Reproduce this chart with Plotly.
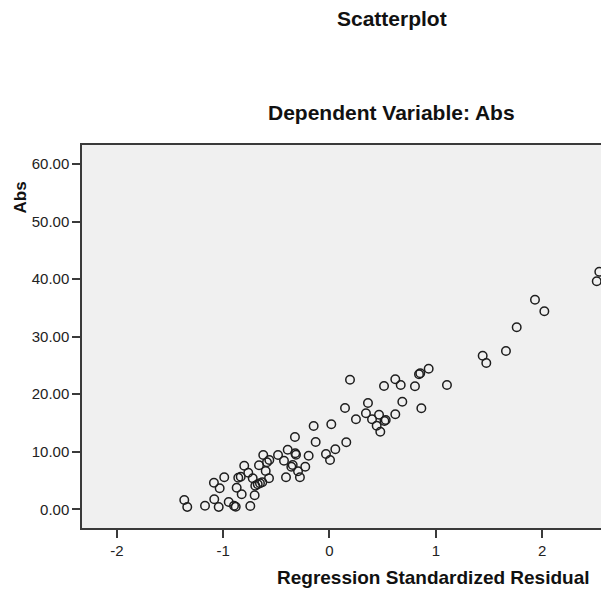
import plotly.graph_objects as go

# Regression standardized residual (x) vs Abs (y)
residual = [-1.366, -1.338, -1.171, -1.084, -1.042, -1.087, -1.033, -0.990, -0.948, -0.898,
            -0.882, -0.873, -0.858, -0.835, -0.826, -0.802, -0.764, -0.745, -0.722, -0.704,
            -0.698, -0.675, -0.654, -0.632, -0.663, -0.623, -0.600, -0.588, -0.566, -0.569,
            -0.484, -0.428, -0.409, -0.393, -0.359, -0.346, -0.322, -0.315, -0.325, -0.296,
            -0.278, -0.228, -0.196, -0.149, -0.130, -0.033, 0.005, 0.017, 0.055, 0.146,
            0.158, 0.193, 0.249, 0.362, 0.343, 0.400, 0.466, 0.444, 0.478, 0.529,
            0.517, 0.619, 0.685, 0.513, 0.619, 0.670, 0.804, 0.842, 0.854, 0.933,
            0.864, 1.105, 1.441, 1.475, 1.660, 1.761, 1.933, 2.021, 2.538, 2.514]
abs_vals = [1.62, 0.40, 0.63, 1.74, 0.40, 4.62, 3.65, 5.56, 1.27, 0.63,
            0.45, 3.75, 5.49, 5.66, 2.61, 7.58, 6.36, 0.57, 5.39, 2.43,
            4.10, 4.34, 4.52, 4.69, 7.65, 9.44, 6.66, 8.17, 8.57, 5.39,
            9.44, 8.44, 5.56, 10.36, 7.40, 7.70, 9.73, 9.49, 12.56, 6.60,
            5.56, 7.40, 9.31, 14.47, 11.69, 9.61, 8.57, 14.77, 10.43, 17.60,
            11.64, 22.52, 15.64, 18.47, 16.68, 15.64, 16.44, 14.53, 13.48, 15.52,
            15.35, 16.51, 18.70, 21.43, 22.59, 21.60, 21.37, 23.46, 23.63, 24.43,
            17.55, 21.60, 26.69, 25.42, 27.51, 31.62, 36.42, 34.41, 41.29, 39.62]

x_ticks = [-2, -1, 0, 1, 2]
y_ticks = [0, 10, 20, 30, 40, 50, 60]

title_main = "Scatterplot"
title_sub = "Dependent Variable: Abs"
x_title = "Regression Standardized Residual"
y_title = "Abs"

FONT = "Liberation Sans, Arial, sans-serif"

fig = go.Figure()
fig.add_trace(go.Scatter(
    x=residual, y=abs_vals, mode="markers",
    marker=dict(symbol="circle-open", size=8.5, color="#1e1e1e",
                line=dict(width=1.5, color="#1e1e1e")),
    showlegend=False, hoverinfo="x+y",
))

axis_common = dict(
    showgrid=False, zeroline=False, showline=True, linecolor="#3a3a3a",
    linewidth=1.5, ticks="outside", ticklen=8, tickwidth=1.5,
    tickcolor="#3a3a3a", tickfont=dict(family=FONT, size=15, color="#222222"),
)

fig.update_layout(
    width=601, height=592,
    margin=dict(l=82, r=0, t=145, b=64),
    paper_bgcolor="white", plot_bgcolor="#f0f0f0",
    font=dict(family=FONT, color="#111111"),
    xaxis=dict(range=[-2.328, 2.554], tickvals=x_ticks, mirror=True,
               ticktext=[str(v) for v in x_ticks], **axis_common),
    yaxis=dict(range=[-3.25, 63.3], tickvals=y_ticks, mirror=False,
               ticktext=[f"{v:.2f}" for v in y_ticks], **axis_common),
    annotations=[
        dict(text=f"<b>{title_main}</b>", xref="paper", yref="paper",
             x=0.597, y=1.329, xanchor="center", yanchor="middle",
             showarrow=False, font=dict(family=FONT, size=21, color="#111111")),
        dict(text=f"<b>{title_sub}</b>", xref="paper", yref="paper",
             x=0.597, y=1.086, xanchor="center", yanchor="middle",
             showarrow=False, font=dict(family=FONT, size=21, color="#111111")),
        dict(text=f"<b>{x_title}</b>", xref="paper", yref="paper",
             x=0.677, y=-0.1305, xanchor="center", yanchor="middle",
             showarrow=False, font=dict(family=FONT, size=19, color="#111111")),
        dict(text=f"<b>{y_title}</b>", xref="paper", yref="paper",
             x=-0.1195, y=0.863, xanchor="center", yanchor="middle",
             textangle=-90, showarrow=False,
             font=dict(family=FONT, size=17, color="#111111")),
    ],
)

fig.write_html("out.html",
               config=dict(displayModeBar=False),
               post_script="document.body.style.margin='0px';document.body.style.overflow='hidden';")
